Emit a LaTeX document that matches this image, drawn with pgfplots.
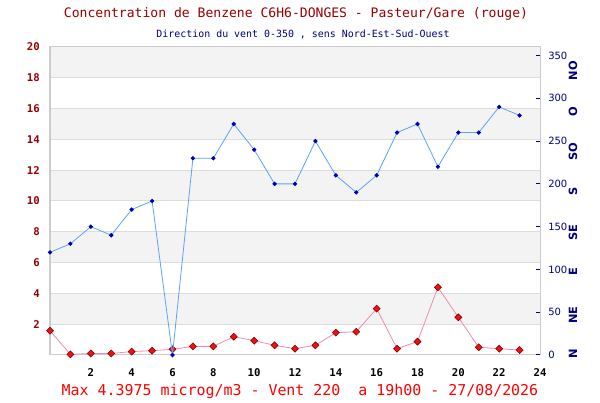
\documentclass[border=0pt]{standalone}
\usepackage{fontspec}
\setmainfont{DejaVu Sans}
\newfontfamily\mono{DejaVu Sans Mono}
\usepackage{pgfplots}
\usepackage{pgfplotstable}
\pgfplotsset{compat=1.18}
\definecolor{titlered}{HTML}{990000}
\definecolor{navy}{HTML}{000080}
\definecolor{band}{HTML}{F3F3F3}
\definecolor{gridc}{HTML}{DDDDDD}
\definecolor{framec}{HTML}{CCCCCC}
\definecolor{windline}{HTML}{5AA5F0}
\definecolor{windmark}{HTML}{0000BB}
\definecolor{benzline}{HTML}{F08CB4}
\definecolor{benzfill}{HTML}{EE1111}
\definecolor{benzdraw}{HTML}{8B0000}

\pgfplotstableread{
h v
0 1.58
1 0.04
2 0.10
3 0.10
4 0.22
5 0.28
6 0.37
7 0.56
8 0.56
9 1.19
10 0.93
11 0.63
12 0.41
13 0.63
14 1.45
15 1.51
16 3.01
17 0.41
18 0.87
19 4.3975
20 2.45
21 0.50
22 0.41
23 0.32
}\benz

\pgfplotstableread{
h v
0 120
1 130
2 150
3 140
4 170
5 180
6 0
7 230
8 230
9 270
10 240
11 200
12 200
13 250
14 210
15 190
16 210
17 260
18 270
19 220
20 260
21 260
22 290
23 280
}\wind

\begin{document}
\begin{tikzpicture}
\fill[white] (0,0) rectangle (450pt,300pt);
\begin{axis}[
  at={(37.5pt,33.75pt)}, anchor=south west, scale only axis,
  width=367.5pt, height=231pt,
  xmin=0, xmax=24, ymin=0, ymax=20,
  xtick={2,4,...,24}, ytick={2,4,...,20},
  major tick length=0pt,
  axis line style={draw=none},
  /pgf/number format/assume math mode=true,
  xticklabel style={font=\mono\bfseries\fontsize{8}{9}\selectfont, text=black, anchor=north, inner sep=0pt, yshift=-10pt},
  yticklabel style={font=\mono\bfseries\fontsize{8}{9}\selectfont, text=titlered, anchor=east, inner sep=0pt, xshift=-7.5pt},
  clip=false,
]
\fill[band] (axis cs:0,2) rectangle (axis cs:24,4);
\fill[band] (axis cs:0,6) rectangle (axis cs:24,8);
\fill[band] (axis cs:0,10) rectangle (axis cs:24,12);
\fill[band] (axis cs:0,14) rectangle (axis cs:24,16);
\fill[band] (axis cs:0,18) rectangle (axis cs:24,20);
\draw[gridc, line width=0.75pt] (axis cs:0,2) -- (axis cs:24,2);
\draw[gridc, line width=0.75pt] (axis cs:0,4) -- (axis cs:24,4);
\draw[gridc, line width=0.75pt] (axis cs:0,6) -- (axis cs:24,6);
\draw[gridc, line width=0.75pt] (axis cs:0,8) -- (axis cs:24,8);
\draw[gridc, line width=0.75pt] (axis cs:0,10) -- (axis cs:24,10);
\draw[gridc, line width=0.75pt] (axis cs:0,12) -- (axis cs:24,12);
\draw[gridc, line width=0.75pt] (axis cs:0,14) -- (axis cs:24,14);
\draw[gridc, line width=0.75pt] (axis cs:0,16) -- (axis cs:24,16);
\draw[gridc, line width=0.75pt] (axis cs:0,18) -- (axis cs:24,18);
\draw[framec, line width=0.75pt] (rel axis cs:0,0) rectangle (rel axis cs:1,1);
\addplot[benzline, line width=0.6pt, mark=square*, mark size=1.85pt,
  mark options={rotate=45, fill=benzfill, draw=benzdraw, line width=0.45pt}] table[x=h,y=v]{\benz};
\end{axis}
\begin{axis}[
  at={(37.5pt,33.75pt)}, anchor=south west, scale only axis,
  width=367.5pt, height=231pt,
  xmin=0, xmax=24, ymin=0, ymax=360,
  axis x line=none, axis y line*=right,
  axis line style={draw=none},
  ytick={0,50,...,350},
  tick align=inside, major tick length=3pt,
  y tick style={navy, line width=0.75pt},
  /pgf/number format/assume math mode=true,
  yticklabel style={font=\fontsize{7.5}{9}\selectfont, text=navy, anchor=west, inner sep=0pt, xshift=6pt},
  clip=false,
]
\addplot[windline, line width=0.6pt, mark=*, mark size=1.3pt,
  mark options={fill=windmark, draw=windmark}] table[x=h,y=v]{\wind};
\end{axis}
\node[font=\mono\fontsize{9.8}{12}\selectfont, text=titlered] at (222pt,289.5pt) {Concentration de Benzene C6H6-DONGES - Pasteur/Gare (rouge)};
\node[font=\mono\fontsize{7.45}{9}\selectfont, text=navy] at (227.25pt,274.5pt) {Direction du vent 0-350 , sens Nord-Est-Sud-Ouest};
\node[font=\mono\fontsize{11.2}{13}\selectfont, text=red] at (225pt,6.75pt) {Max 4.3975 microg/m3 - Vent 220\ \ a 19h00 - 27/08/2026};
\begin{scope}[every node/.style={rotate=90, font=\bfseries\fontsize{8.5}{9}\selectfont, text=navy, inner sep=0pt}]
\node at (429.75pt,34.7pt) {N};
\node at (429.75pt,63.75pt) {NE};
\node at (429.75pt,96.2pt) {E};
\node at (429.75pt,125.25pt) {SE};
\node at (429.75pt,156.2pt) {S};
\node at (429.75pt,186pt) {SO};
\node at (429.75pt,216.2pt) {O};
\node at (429.75pt,247.1pt) {NO};
\end{scope}
\end{tikzpicture}
\end{document}
